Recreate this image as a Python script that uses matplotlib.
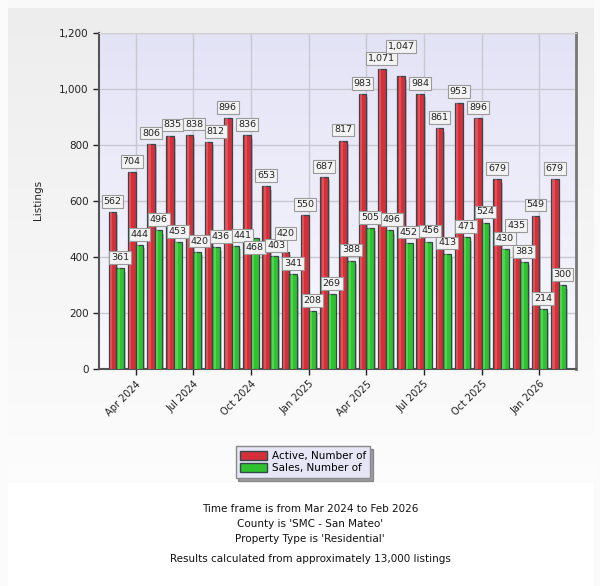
# Active vs Sales listings per month, San Mateo residential
import numpy as np
import matplotlib
matplotlib.use('Agg')
import matplotlib.pyplot as plt
from matplotlib.ticker import FuncFormatter

# data
months = ['Mar 2024', 'Apr 2024', 'May 2024', 'Jun 2024', 'Jul 2024', 'Aug 2024',
          'Sep 2024', 'Oct 2024', 'Nov 2024', 'Dec 2024', 'Jan 2025', 'Feb 2025',
          'Mar 2025', 'Apr 2025', 'May 2025', 'Jun 2025', 'Jul 2025', 'Aug 2025',
          'Sep 2025', 'Oct 2025', 'Nov 2025', 'Dec 2025', 'Jan 2026', 'Feb 2026']
active = [562, 704, 806, 835, 838, 812, 896, 836, 653, 420, 550, 687,
          817, 983, 1071, 1047, 984, 861, 953, 896, 679, 435, 549, 679]
sales = [361, 444, 496, 453, 420, 436, 441, 468, 403, 341, 208, 269,
         388, 505, 496, 452, 456, 413, 471, 524, 430, 383, 214, 300]
tick_months = ['Apr 2024', 'Jul 2024', 'Oct 2024', 'Jan 2025',
               'Apr 2025', 'Jul 2025', 'Oct 2025', 'Jan 2026']
footer = ["Time frame is from Mar 2024 to Feb 2026",
          "County is 'SMC - San Mateo'",
          "Property Type is 'Residential'"]
footer2 = "Results calculated from approximately 13,000 listings"

fig = plt.figure(figsize=(6, 5.86), dpi=100)

# page background: light gray panel fading to white
bg = fig.add_axes([0, 0, 1, 1], zorder=-5)
H, W = 586, 600
img = np.ones((H, W, 3))
rows = np.arange(H)
shade = np.clip(0.93 + 0.06 * (rows - 8) / 470, 0.93, 0.99)
shade[rows > 482] = 1.0
shade[rows < 8] = 0.98
img[:, :, :] = shade[:, None, None]
img[:, :8, :] = 0.985
img[:, 594:, :] = 0.985
bg.imshow(img, extent=[0, 1, 0, 1], aspect='auto')
bg.axis('off')

ax = fig.add_axes([0.165, 0.370, 0.795, 0.573])
x = np.arange(len(months))
w = 0.40

# plot area gradient, lavender at top
grad = np.linspace(0.0, 1.0, 100)[:, None]
top = np.array([0.89, 0.89, 0.965])
bot = np.array([0.975, 0.975, 1.0])
gimg = top[None, None, :] * (1 - grad[..., None]) + bot[None, None, :] * grad[..., None]
gimg = np.repeat(gimg, 2, axis=1)
ax.imshow(gimg, extent=[-0.9, 23.9, 0, 1200], aspect='auto', zorder=0)

def draw_bars(xs, vals, color, light):
    # shadow
    ax.bar(xs + 0.09, vals, w, bottom=-12, color='#9a9aa6', alpha=0.6, zorder=2)
    ax.bar(xs, vals, w, color=color, edgecolor='#34474a', linewidth=0.9, zorder=3)
    ax.bar(xs - w * 0.18, vals, w * 0.28, color=light, alpha=0.55, zorder=3.5)

draw_bars(x - 0.2, active, '#d5303a', '#ee6d72')
draw_bars(x + 0.2, sales, '#2fc42f', '#6fe46f')

box = dict(boxstyle='square,pad=0.2', facecolor='#f3f3f3', edgecolor='#9a9a9a', linewidth=0.8)
labels = []
for i in range(len(months)):
    ta = ax.text(x[i] - 0.2, active[i] + 38, f'{active[i]:,}', ha='center', va='center',
                 fontsize=6.8, color='#222222', bbox=box, zorder=6)
    ts = ax.text(x[i] + 0.2, sales[i] + 38, f'{sales[i]:,}', ha='center', va='center',
                 fontsize=6.8, color='#222222', bbox=box, zorder=6)
    labels.append((ta, 1))
    labels.append((ts, -1))

ax.set_xlim(-0.9, 23.9)
ax.set_ylim(0, 1200)
ax.set_yticks(range(0, 1201, 200))
ax.yaxis.set_major_formatter(FuncFormatter(lambda v, p: f'{int(v):,}'))
ax.set_xticks([months.index(m) for m in tick_months])
ax.set_xticklabels(tick_months, rotation=45, ha='right', rotation_mode='anchor')
ax.tick_params(axis='both', labelsize=7.5, colors='#222222', length=4, width=1)
ax.tick_params(axis='x', labelsize=7, pad=3)
ax.grid(True, color='#c8c8d2', linewidth=1)
ax.set_axisbelow(True)
for gl in ax.get_xgridlines() + ax.get_ygridlines():
    gl.set_zorder(1)

ax.spines['left'].set_color('#555555')
ax.spines['left'].set_linewidth(1.5)
ax.spines['bottom'].set_color('#555555')
ax.spines['bottom'].set_linewidth(1.5)
ax.spines['top'].set_color('#d0d0d0')
ax.spines['right'].set_color('#777777')
ax.spines['right'].set_linewidth(2)

# simple label collision avoidance: small overlaps slide sideways,
# otherwise active labels go up and sales labels go down
fig.canvas.draw()
renderer = fig.canvas.get_renderer()
ext = ax.get_window_extent()
uy = 1200 / ext.height
ux = 24.8 / ext.width

def label_box(t):
    return t.get_window_extent(renderer).padded(1.5)

placed = []
for t, direction in labels:
    for _ in range(10):
        bb = label_box(t)
        hit = [p for p in placed if bb.overlaps(p)]
        if not hit:
            break
        p = hit[0]
        xx, yy = t.get_position()
        dx = p.x1 - bb.x0
        if 0 < dx <= 7:
            t.set_position((xx + (dx + 0.5) * ux, yy))
            continue
        if direction > 0:
            shift = p.y1 - bb.y0 + 0.5
        else:
            shift = -(bb.y1 - p.y0 + 0.5)
        t.set_position((xx, yy + shift * uy))
    placed.append(label_box(t))

fig.text(38 / 600, 1 - 200 / 586, 'Listings', rotation=90, ha='center', va='center',
         fontsize=7.5, color='#222222')

handles = [plt.Rectangle((0, 0), 1, 1, facecolor='#d5303a', edgecolor='#34474a'),
           plt.Rectangle((0, 0), 1, 1, facecolor='#2fc42f', edgecolor='#34474a')]
leg = fig.legend(handles, ['Active, Number of', 'Sales, Number of'],
                 loc='center', bbox_to_anchor=(303 / 600, 1 - 462 / 586),
                 fontsize=7.5, frameon=True, fancybox=False, shadow=True,
                 handlelength=2.6, handleheight=0.9, handletextpad=0.4,
                 borderpad=0.45, labelspacing=0.2, borderaxespad=0)
leg.get_frame().set_facecolor('#e6e6f6')
leg.get_frame().set_edgecolor('#8a8a8a')

for k, line in enumerate(footer):
    fig.text(310 / 600, 1 - (509 + 15 * k) / 586, line, ha='center', va='center',
             fontsize=7.5, color='#111111')
fig.text(310 / 600, 1 - 559 / 586, footer2, ha='center', va='center',
         fontsize=7.5, color='#111111')

plt.savefig('out.png', dpi=100)
